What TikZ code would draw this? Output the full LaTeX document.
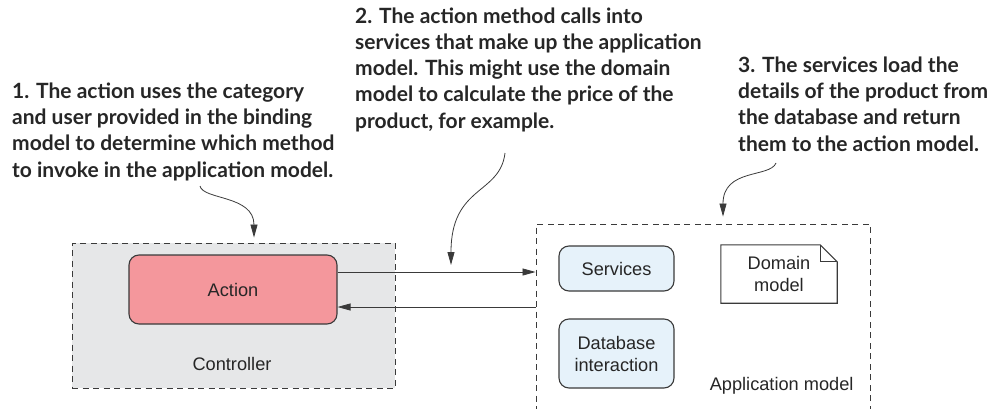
\documentclass[tikz,border=0pt]{standalone}
\usepackage{fontspec}
\setmainfont{Liberation Sans}
\newfontfamily\notefont{Lato}
\usetikzlibrary{arrows.meta}
\definecolor{ctrlgray}{HTML}{E6E7E8}
\definecolor{actionred}{HTML}{F4979C}
\definecolor{svcblue}{HTML}{E6F2FA}
\definecolor{edge}{HTML}{3A3A3A}
\tikzset{every node/.style={font=\fontsize{18.2}{22}\selectfont,text=black!85},line cap=round,line join=round,
  note/.style={anchor=base west,align=left,inner sep=0pt,font=\notefont\bfseries\fontsize{21}{26.2}\selectfont},
  group/.style={draw=edge,dash pattern=on 6pt off 4.5pt,line width=0.9pt,line cap=butt},
  part/.style={draw=edge,line width=1.1pt,rounded corners=10pt,align=center},
  flow/.style={draw=edge,line width=0.8pt,-{Triangle[length=13pt,width=7pt]}}}

\begin{document}
\begin{tikzpicture}[x=1pt,y=1pt]
  \path[use as bounding box] (0,0) rectangle (1003,408);
  \node[group,fill=ctrlgray,minimum width=323,minimum height=145] (controller) at (233.5,92.5) {};
  \node[group,minimum width=334,minimum height=200] (appmodel) at (703,84) {};
  \node[part,fill=actionred,minimum width=208,minimum height=69] (action) at (233,118.5) {Action};
  \node (ctrllabel) at (232,44) {Controller};
  \node[part,fill=svcblue,minimum width=115,minimum height=45] (services) at (616.5,139.5) {Services};
  \node[part,fill=svcblue,minimum width=115,minimum height=69] (database) at (616.5,54.5) {Database\\interaction};
  \node[align=center,minimum width=116,minimum height=58] (domain) at (779,134) {Domain\\model};
  \draw[edge,line width=1.1pt] (domain.south west) -- (domain.north west) -- ([xshift=-17pt]domain.north east)
    -- ([yshift=-17pt]domain.north east) -- (domain.south east) -- cycle;
  \draw[edge,line width=1.1pt] ([xshift=-17pt]domain.north east) |- ([yshift=-17pt]domain.north east);
  \node[anchor=east] (applabel) at (857,22) {Application model};

  \draw[flow] ([yshift=17.5pt]action.east) -- ([yshift=17.5pt]action.east -| appmodel.west);
  \draw[flow] ([yshift=-17.5pt]action.east -| appmodel.west) -- ([yshift=-17.5pt]action.east);

  \node[note] (note1) at (12,231) {1. The action uses the category\\and user provided in the binding\\model to determine which method\\to invoke in the application model.};
  \node[note] (note2) at (355,280) {2. The action method calls into\\services that make up the application\\model. This might use the domain\\model to calculate the price of the\\product, for example.};
  \node[note] (note3) at (738,257) {3. The services load the\\details of the product from\\the database and return\\them to the action model.};

  \coordinate (from1) at (200,222);
  \coordinate (from2) at (505,255);
  \coordinate (to2) at (451,143);
  \coordinate (from3) at (776,245);
  \draw[flow] (from1) .. controls (203,208) and (254,213) .. ([xshift=20.5pt,yshift=5pt]controller.north);
  \draw[flow] (from2) .. controls (500,213) and (451,223) .. (to2);
  \draw[flow] (from3) .. controls (770,230) and (723,240) .. ([xshift=20pt,yshift=7pt]appmodel.north);
\end{tikzpicture}
\end{document}
